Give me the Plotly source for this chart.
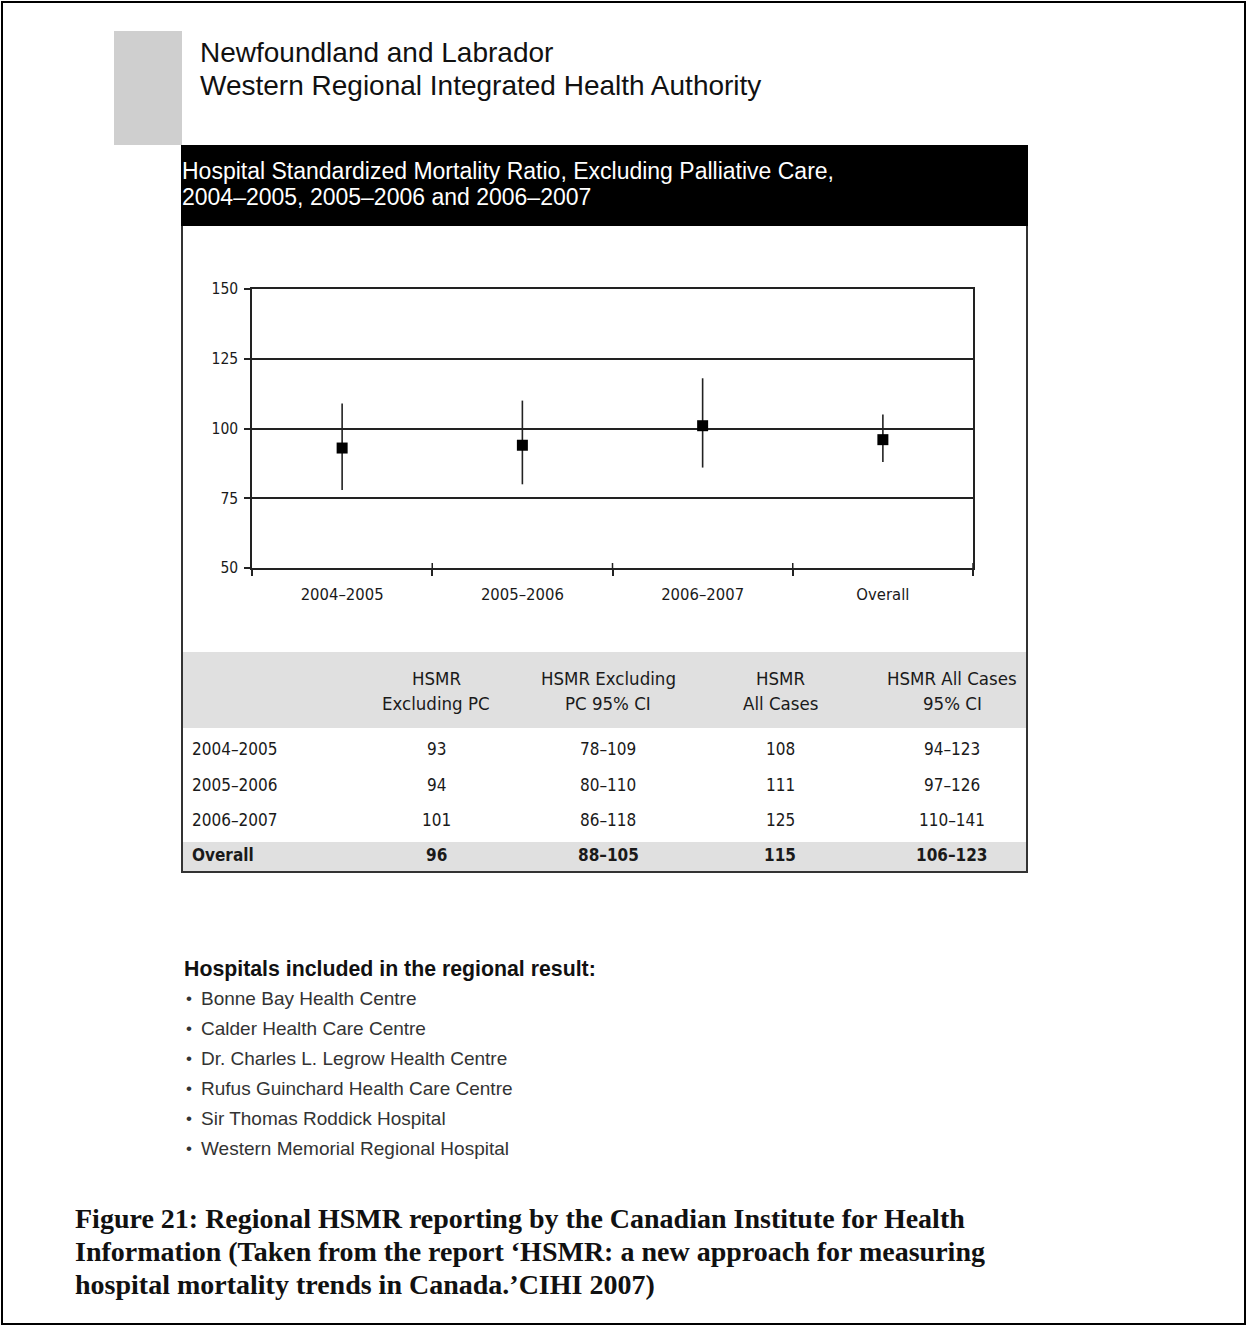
import plotly.graph_objects as go

W, H = 1247, 1326

# ---------------- data ----------------
periods = ["2004–2005", "2005–2006", "2006–2007", "Overall"]
hsmr_excl_pc = [93, 94, 101, 96]
ci_low = [78, 80, 86, 88]
ci_high = [109, 110, 118, 105]
hsmr_all = [108, 111, 125, 115]
all_ci_low = [94, 97, 110, 106]
all_ci_high = [123, 126, 141, 123]
y_ticks = [50, 75, 100, 125, 150]
table_headers = [["HSMR", "Excluding PC"], ["HSMR Excluding", "PC 95% CI"],
                 ["HSMR", "All Cases"], ["HSMR All Cases", "95% CI"]]
hospitals = ["Bonne Bay Health Centre", "Calder Health Care Centre",
             "Dr. Charles L. Legrow Health Centre", "Rufus Guinchard Health Care Centre",
             "Sir Thomas Roddick Hospital", "Western Memorial Regional Hospital"]
title_lines = ["Newfoundland and Labrador", "Western Regional Integrated Health Authority"]
chart_title = ["Hospital Standardized Mortality Ratio, Excluding Palliative Care,",
               "2004–2005, 2005–2006 and 2006–2007"]
caption = ["Figure 21: Regional HSMR reporting by the Canadian Institute for Health",
           "Information (Taken from the report ‘HSMR: a new approach for measuring",
           "hospital mortality trends in Canada.’CIHI 2007)"]


def px(x):
    return x / W


def py(y):
    return 1 - y / H


NARROW = "Liberation Sans Narrow, Arial Narrow, DejaVu Sans Condensed, sans-serif"
SANS = "Liberation Sans, Arial, Helvetica, sans-serif"
SERIF = "Liberation Serif, Times New Roman, serif"
INK = "#1a1a1a"

fig = go.Figure()

fig.add_trace(go.Scatter(
    x=periods, y=hsmr_excl_pc, mode="markers",
    marker=dict(symbol="square", size=11, color="#000000"),
    error_y=dict(type="data", symmetric=False,
                 array=[h - v for h, v in zip(ci_high, hsmr_excl_pc)],
                 arrayminus=[v - l for v, l in zip(hsmr_excl_pc, ci_low)],
                 width=0, thickness=1.6, color="#222222"),
    showlegend=False, hoverinfo="skip",
))

shapes = []
annotations = []

# outer page border
shapes.append(dict(type="rect", xref="paper", yref="paper", x0=px(2), x1=px(1245), y0=py(1324), y1=py(2),
                   line=dict(color="#000000", width=2), layer="below"))
# gray tab
shapes.append(dict(type="rect", xref="paper", yref="paper", x0=px(114), x1=px(182), y0=py(145), y1=py(31),
                   fillcolor="#cfcfcf", line=dict(width=0), layer="below"))
# black header band
shapes.append(dict(type="rect", xref="paper", yref="paper", x0=px(181), x1=px(1028), y0=py(226), y1=py(145),
                   fillcolor="#000000", line=dict(width=0), layer="below"))
# table header band
shapes.append(dict(type="rect", xref="paper", yref="paper", x0=px(182), x1=px(1027), y0=py(728), y1=py(652),
                   fillcolor="#e0e0e0", line=dict(width=0), layer="below"))
# overall row band
shapes.append(dict(type="rect", xref="paper", yref="paper", x0=px(182), x1=px(1027), y0=py(872), y1=py(842),
                   fillcolor="#e0e0e0", line=dict(width=0), layer="below"))
# chart box border (left, right, bottom)
for (x0, y0, x1, y1) in [(182, 226, 182, 872), (1027, 226, 1027, 872), (181, 872, 1028, 872)]:
    shapes.append(dict(type="line", xref="paper", yref="paper", x0=px(x0), x1=px(x1), y0=py(y0), y1=py(y1),
                       line=dict(color="#333333", width=2)))
# inner part of the crossing x ticks at category boundaries
for b in [0.5, 1.5, 2.5, 3.5]:
    shapes.append(dict(type="line", xref="x", yref="paper", x0=b, x1=b, y0=py(568), y1=py(563),
                       line=dict(color="#222222", width=1.5)))

# titles
for i, t in enumerate(title_lines):
    annotations.append(dict(text=t, x=px(198), y=py(53 + 33 * i), xref="paper", yref="paper",
                            xanchor="left", yanchor="middle", showarrow=False,
                            font=dict(family=SANS, size=28, color="#111111")))
for i, t in enumerate(chart_title):
    annotations.append(dict(text=t, x=px(180), y=py(171 + 26 * i), xref="paper", yref="paper",
                            xanchor="left", yanchor="middle", showarrow=False,
                            font=dict(family=SANS, size=23, color="#ffffff")))

# table
col_x = [436, 608, 780, 952]
for cx, hdr in zip(col_x, table_headers):
    for j, t in enumerate(hdr):
        annotations.append(dict(text=t, x=px(cx), y=py(678 + 25 * j), xref="paper", yref="paper",
                                xanchor="center", yanchor="middle", showarrow=False,
                                font=dict(family=NARROW, size=18.5, color=INK)))
row_y = [749, 785, 820, 855]
for i, p in enumerate(periods):
    bold = (p == "Overall")
    cells = [str(hsmr_excl_pc[i]), f"{ci_low[i]}–{ci_high[i]}", str(hsmr_all[i]),
             f"{all_ci_low[i]}–{all_ci_high[i]}"]
    wrap = (lambda s: f"<b>{s}</b>") if bold else (lambda s: s)
    annotations.append(dict(text=wrap(p), x=px(190), y=py(row_y[i]), xref="paper", yref="paper",
                            xanchor="left", yanchor="middle", showarrow=False,
                            font=dict(family=NARROW, size=17, color=INK)))
    for cx, c in zip(col_x, cells):
        annotations.append(dict(text=wrap(c), x=px(cx), y=py(row_y[i]), xref="paper", yref="paper",
                                xanchor="center", yanchor="middle", showarrow=False,
                                font=dict(family=NARROW, size=17, color=INK)))

# hospitals list
annotations.append(dict(text="<b>Hospitals included in the regional result:</b>", x=px(182), y=py(969),
                        xref="paper", yref="paper", xanchor="left", yanchor="middle", showarrow=False,
                        font=dict(family=SANS, size=21.3, color="#111111")))
for i, hname in enumerate(hospitals):
    annotations.append(dict(text="•", x=px(184), y=py(998 + 30 * i), xref="paper", yref="paper",
                            xanchor="left", yanchor="middle", showarrow=False,
                            font=dict(family=SANS, size=17, color="#333333")))
    annotations.append(dict(text=hname, x=px(199), y=py(998 + 30 * i), xref="paper", yref="paper",
                            xanchor="left", yanchor="middle", showarrow=False,
                            font=dict(family=SANS, size=19, color="#333333")))

# caption
for i, t in enumerate(caption):
    annotations.append(dict(text=f"<b>{t}</b>", x=px(73), y=py(1218 + 33 * i), xref="paper", yref="paper",
                            xanchor="left", yanchor="middle", showarrow=False,
                            font=dict(family=SERIF, size=28, color="#111111")))

fig.update_layout(
    width=W, height=H, autosize=False,
    margin=dict(l=0, r=0, t=0, b=0, pad=0, autoexpand=False),
    paper_bgcolor="#ffffff", plot_bgcolor="#ffffff",
    shapes=shapes, annotations=annotations,
    xaxis=dict(domain=[px(252), px(973)], type="category", categoryorder="array", categoryarray=periods,
               range=[-0.5, 3.5], tickson="boundaries", ticks="outside", ticklen=6, tickwidth=1.5,
               tickcolor="#222222", showline=True, linecolor="#222222", linewidth=1.5, mirror=True,
               showgrid=False, zeroline=False, ticklabelstandoff=10,
               tickfont=dict(family=NARROW, size=16.5, color=INK), fixedrange=True),
    yaxis=dict(domain=[py(568), py(289)], range=[50, 150], tickvals=y_ticks, ticktext=[str(v) for v in y_ticks],
               ticks="outside", ticklen=6, tickwidth=1.5, tickcolor="#222222",
               showline=True, linecolor="#222222", linewidth=1.5, mirror=True,
               showgrid=True, gridcolor="#222222", gridwidth=1.5, zeroline=False,
               ticklabelstandoff=3, tickfont=dict(family=NARROW, size=15.5, color=INK), fixedrange=True),
)

fig.write_html("out.html")
